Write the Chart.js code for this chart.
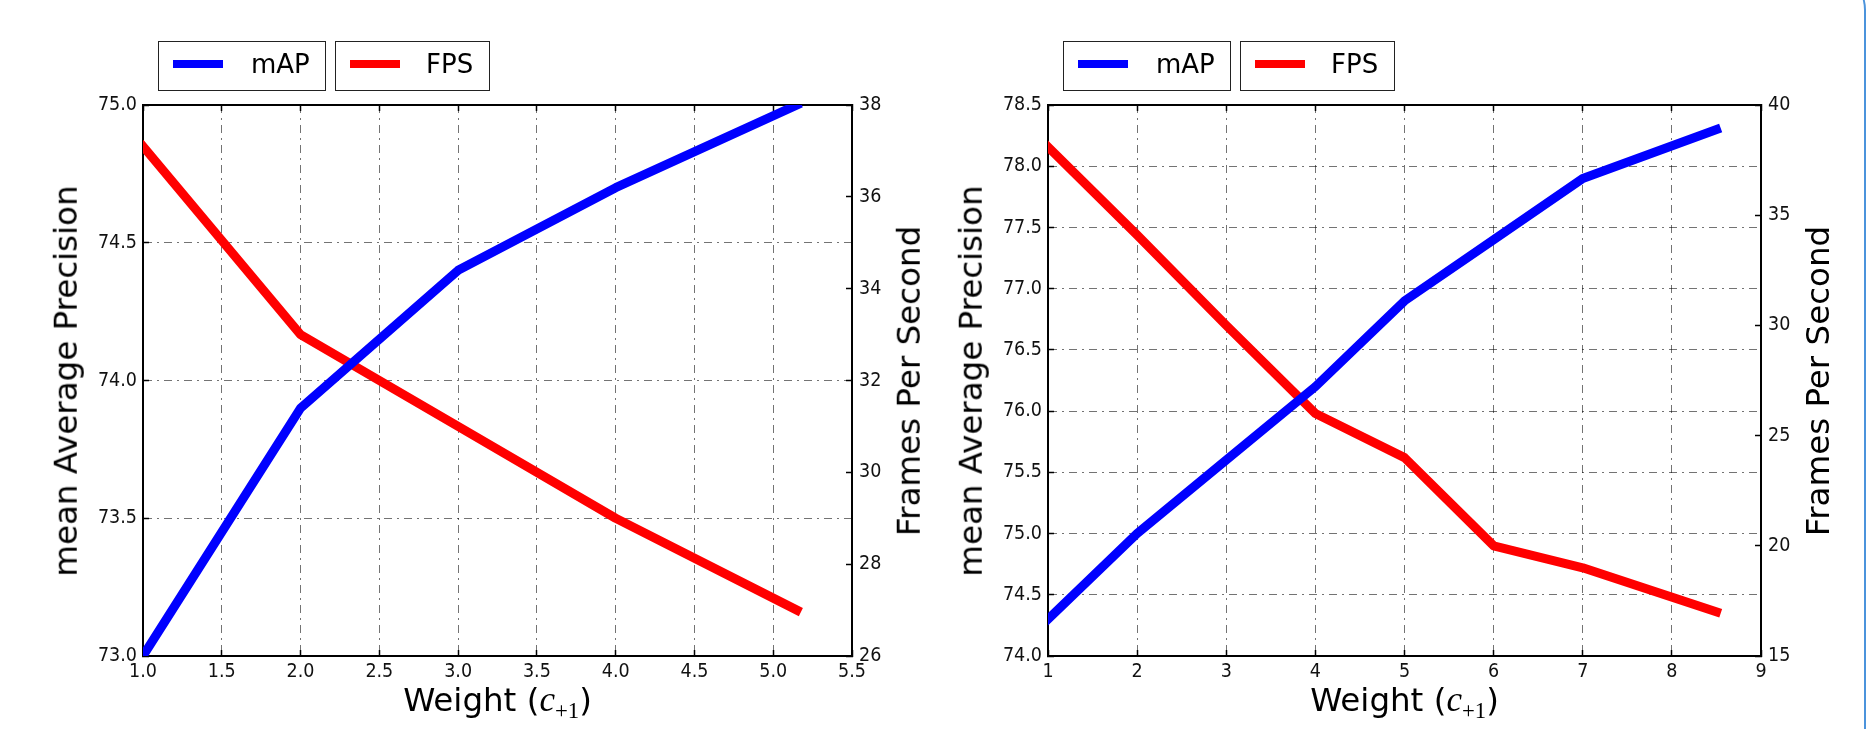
<!DOCTYPE html>
<html>
<head>
<meta charset="utf-8">
<script src="https://cdn.jsdelivr.net/npm/chart.js@4.4.1/dist/chart.umd.min.js"></script>
<style>
html, body { margin: 0; padding: 0; background: #fff; }
body { width: 1876px; height: 729px; position: relative; overflow: hidden; font-family: "DejaVu Sans", sans-serif; color: #000; }
canvas { position: absolute; top: 0; }
.legbox { position: absolute; border: 1.5px solid #222; box-sizing: border-box; background: #fff; }
.legline { position: absolute; height: 8px; }
.legtext { position: absolute; font-size: 26px; line-height: 1; white-space: nowrap; }
.t { position: absolute; width: 0; height: 0; }
.t > span { position: absolute; left: 0; top: 0; white-space: nowrap; font-size: 32.5px; line-height: 1; transform: translate(-50%, -50%); }
.t > span.rot { transform: translate(-50%, -50%) rotate(-90deg); }
.mc { font-family: "Liberation Serif", serif; font-style: italic; font-size: 1.08em; }
.ms { font-family: "Liberation Serif", serif; font-size: 0.7em; position: relative; top: 0.3em; }
.frame { position: absolute; left: 1700px; top: -30px; width: 166px; height: 800px; border-right: 2px solid #4b93dc; border-top-right-radius: 40px; box-sizing: border-box; }
</style>
</head>
<body>
<canvas id="c1" width="938" height="729" style="left:0px;width:938px;height:729px"></canvas>
<canvas id="c2" width="938" height="729" style="left:905px;width:938px;height:729px"></canvas>
<div class="frame"></div>
<div id="overlay"></div>
<script>
// ---- data ----
const seriesNames = ['mAP', 'FPS'];
const seriesColors = ['#0000ff', '#ff0000'];
const xTitleText = 'Weight (';
const yLeftTitle = 'mean Average Precision';
const yRightTitle = 'Frames Per Second';

// left panel
const leftWeights = [1, 2, 3, 4, 5.15];
const leftMAP = [73.0, 73.9, 74.4, 74.7, 75.0];
const leftFPS = [37.1, 33.0, 31.0, 29.0, 27.0];
const leftXTicks = [1.0, 1.5, 2.0, 2.5, 3.0, 3.5, 4.0, 4.5, 5.0, 5.5];
const leftMAPTicks = [73.0, 73.5, 74.0, 74.5, 75.0];
const leftFPSTicks = [26, 28, 30, 32, 34, 36, 38];

// right panel
const rightWeights = [1, 2, 3, 4, 5, 6, 7, 8.5];
const rightMAP = [74.3, 75.0, 75.6, 76.2, 76.9, 77.4, 77.9, 78.3];
const rightFPS = [38.1, 34.1, 30.0, 26.0, 24.0, 20.0, 19.0, 17.0];
const rightXTicks = [1, 2, 3, 4, 5, 6, 7, 8, 9];
const rightMAPTicks = [74.0, 74.5, 75.0, 75.5, 76.0, 76.5, 77.0, 77.5, 78.0, 78.5];
const rightFPSTicks = [15, 20, 25, 30, 35, 40];

const TICK_FONT = { family: '"DejaVu Sans Condensed", "DejaVu Sans", sans-serif', size: 19.5 };
const GRID_DASH = [8, 5, 2, 5];

function setTicks(arr) {
  return function (scale) { scale.ticks = arr.map(v => ({ value: v })); };
}

function lineDataset(label, color, xs, ys, axisId) {
  return {
    label: label,
    data: xs.map((x, i) => ({ x: x, y: ys[i] })),
    yAxisID: axisId,
    borderColor: color,
    backgroundColor: color,
    borderWidth: 9,
    pointRadius: 0,
    pointHoverRadius: 0,
    tension: 0,
    fill: false,
    clip: 0,
    borderCapStyle: 'square',
    borderJoinStyle: 'round'
  };
}

function buildChart(id, o) {
  const commonBorder = { display: true, color: '#000', width: 2, dash: GRID_DASH };
  return new Chart(document.getElementById(id), {
    type: 'line',
    data: {
      datasets: [
        lineDataset(seriesNames[0], seriesColors[0], o.xs, o.map, 'y'),
        lineDataset(seriesNames[1], seriesColors[1], o.xs, o.fps, 'y1')
      ]
    },
    options: {
      responsive: false,
      animation: false,
      devicePixelRatio: 1,
      layout: { padding: { top: 105, left: 0, right: 0, bottom: 0 } },
      plugins: { legend: { display: false }, tooltip: { enabled: false } },
      scales: {
        x: {
          type: 'linear', position: 'bottom',
          min: o.xTicks[0], max: o.xTicks[o.xTicks.length - 1],
          afterBuildTicks: setTicks(o.xTicks),
          afterFit: s => { s.height = 729 - 656; },
          ticks: { font: TICK_FONT, color: '#111', padding: 10, maxRotation: 0, autoSkip: false, callback: o.fmtX },
          grid: { display: true, drawOnChartArea: true, color: 'rgba(0,0,0,0.55)', lineWidth: 1,
                  drawTicks: true, tickLength: -6, tickColor: '#000', tickWidth: 1.5, tickBorderDash: [] },
          border: commonBorder
        },
        xTop: {
          type: 'linear', position: 'top',
          min: o.xTicks[0], max: o.xTicks[o.xTicks.length - 1],
          afterBuildTicks: setTicks(o.xTicks),
          afterFit: s => { s.height = 0; },
          ticks: { display: false },
          grid: { display: true, drawOnChartArea: false, drawTicks: true, tickLength: -6,
                  tickColor: '#000', tickWidth: 1.5, tickBorderDash: [] },
          border: { display: true, color: '#000', width: 2 }
        },
        y: {
          type: 'linear', position: 'left',
          min: o.mapTicks[0], max: o.mapTicks[o.mapTicks.length - 1],
          afterBuildTicks: setTicks(o.mapTicks),
          afterFit: s => { s.width = 143; },
          ticks: { font: TICK_FONT, color: '#111', padding: 12, autoSkip: false, callback: v => v.toFixed(1) },
          grid: { display: true, drawOnChartArea: true, color: 'rgba(0,0,0,0.55)', lineWidth: 1,
                  drawTicks: true, tickLength: -6, tickColor: '#000', tickWidth: 1.5, tickBorderDash: [] },
          border: commonBorder
        },
        y1: {
          type: 'linear', position: 'right',
          min: o.fpsTicks[0], max: o.fpsTicks[o.fpsTicks.length - 1],
          afterBuildTicks: setTicks(o.fpsTicks),
          afterFit: s => { s.width = o.rightW; },
          ticks: { font: TICK_FONT, color: '#111', padding: 13, autoSkip: false, callback: v => String(v) },
          grid: { display: true, drawOnChartArea: false, drawTicks: true, tickLength: -6,
                  tickColor: '#000', tickWidth: 1.5, tickBorderDash: [] },
          border: { display: true, color: '#000', width: 2 }
        }
      }
    }
  });
}

buildChart('c1', {
  xs: leftWeights, map: leftMAP, fps: leftFPS,
  xTicks: leftXTicks, mapTicks: leftMAPTicks, fpsTicks: leftFPSTicks,
  fmtX: v => v.toFixed(1), rightW: 938 - 852
});
buildChart('c2', {
  xs: rightWeights, map: rightMAP, fps: rightFPS,
  xTicks: rightXTicks, mapTicks: rightMAPTicks, fpsTicks: rightFPSTicks,
  fmtX: v => String(v), rightW: 938 - 856
});

// ---- legends and axis titles (HTML text) ----
function addPanelText(dx, plotL, plotR) {
  const ov = document.getElementById('overlay');
  const html = [];
  const boxes = [
    { left: 158, width: 168, line: 173, text: 251 },
    { left: 335, width: 155, line: 350, text: 426 }
  ];
  boxes.forEach((b, i) => {
    html.push(`<div class="legbox" style="left:${dx + b.left}px;top:41px;width:${b.width}px;height:50px"></div>`);
    html.push(`<div class="legline" style="left:${dx + b.line}px;top:59.5px;width:50px;background:${seriesColors[i]}"></div>`);
    html.push(`<div class="legtext" style="left:${dx + b.text}px;top:51px">${seriesNames[i]}</div>`);
  });
  const cy = (105 + 656) / 2;
  html.push(`<div class="t" style="left:${dx + 66}px;top:${cy}px"><span class="rot">${yLeftTitle}</span></div>`);
  html.push(`<div class="t" style="left:${plotR + 57}px;top:${cy}px"><span class="rot">${yRightTitle}</span></div>`);
  html.push(`<div class="t" style="left:${(plotL + plotR) / 2}px;top:700px"><span>${xTitleText}<span class="mc">c</span><span class="ms">+1</span>)</span></div>`);
  ov.insertAdjacentHTML('beforeend', html.join(''));
}
addPanelText(0, 143, 852);
addPanelText(905, 1048, 1761);
</script>
</body>
</html>
